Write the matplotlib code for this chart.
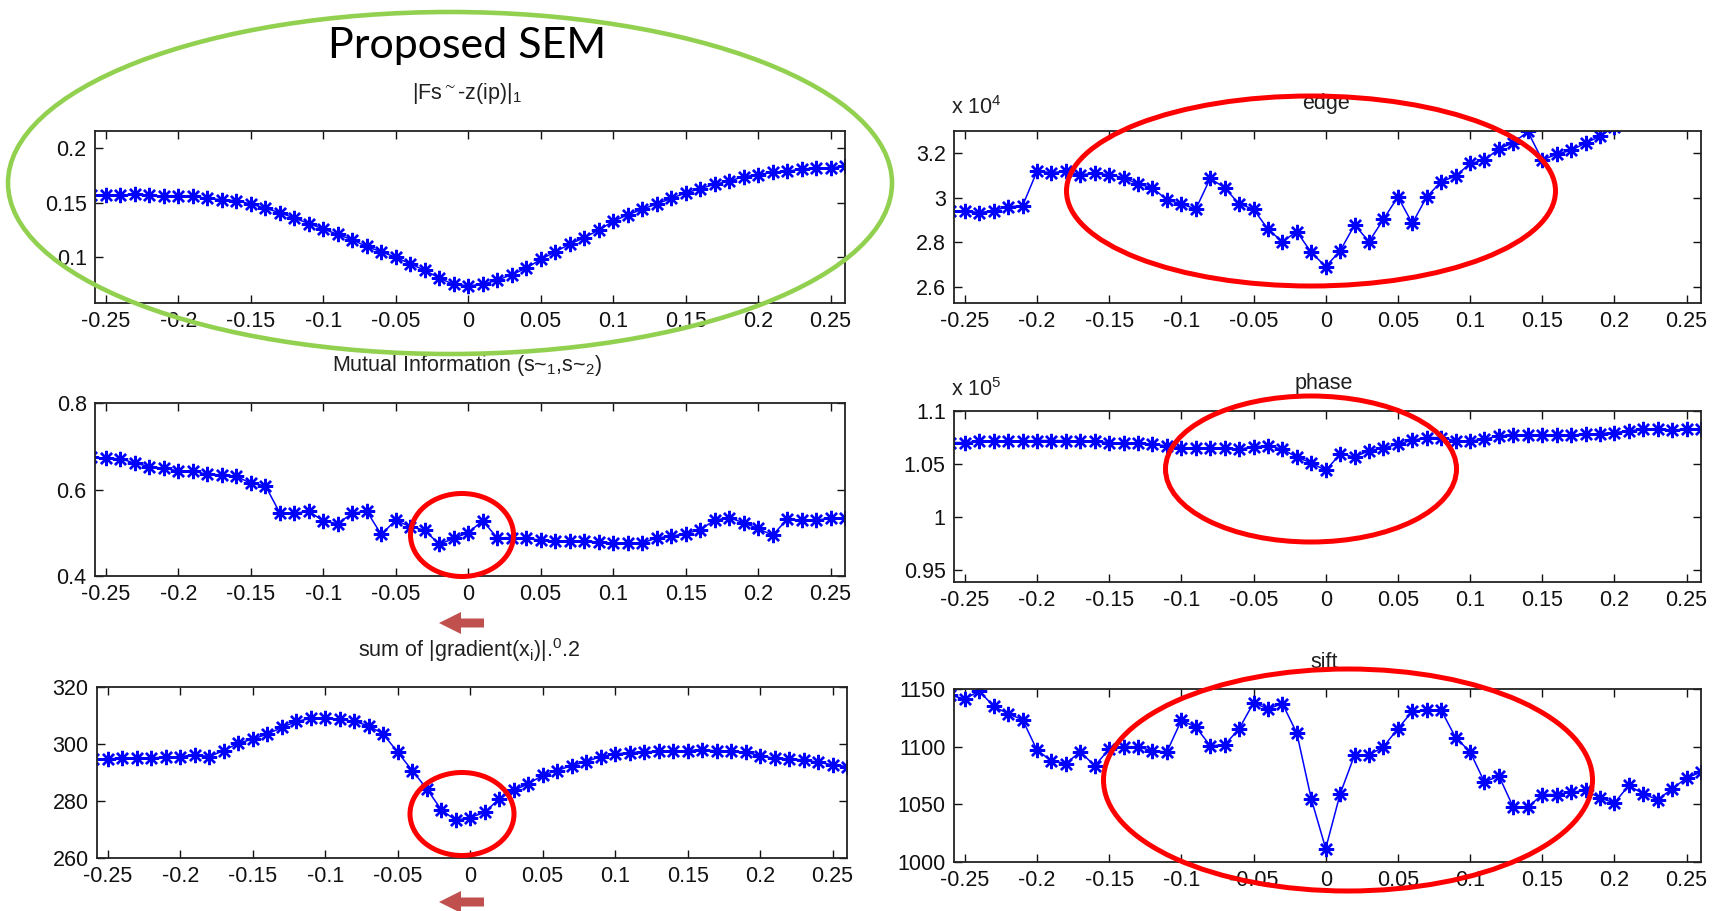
import numpy as np
import matplotlib
matplotlib.use("Agg")
import matplotlib.pyplot as plt
from matplotlib.patches import Ellipse, Polygon

plt.rcParams["font.family"] = ["Liberation Sans", "DejaVu Sans"]
plt.rcParams["axes.unicode_minus"] = False
plt.rcParams["mathtext.fontset"] = "custom"
plt.rcParams["mathtext.rm"] = "Liberation Sans"
plt.rcParams["mathtext.it"] = "Liberation Sans"
plt.rcParams["mathtext.default"] = "regular"

# ---------------- data ----------------
shift = [-0.26, -0.25, -0.24, -0.23, -0.22, -0.21, -0.20, -0.19, -0.18, -0.17, -0.16,
         -0.15, -0.14, -0.13, -0.12, -0.11, -0.10, -0.09, -0.08, -0.07, -0.06, -0.05,
         -0.04, -0.03, -0.02, -0.01, 0.00, 0.01, 0.02, 0.03, 0.04, 0.05, 0.06, 0.07,
         0.08, 0.09, 0.10, 0.11, 0.12, 0.13, 0.14, 0.15, 0.16, 0.17, 0.18, 0.19, 0.20,
         0.21, 0.22, 0.23, 0.24, 0.25, 0.26]

fs_l1 = [0.157, 0.157, 0.157, 0.158, 0.157, 0.156, 0.156, 0.156, 0.154, 0.153, 0.152,
         0.149, 0.145, 0.141, 0.136, 0.131, 0.126, 0.121, 0.116, 0.110, 0.105, 0.100,
         0.094, 0.088, 0.081, 0.075, 0.074, 0.075, 0.079, 0.084, 0.090, 0.098, 0.105,
         0.112, 0.118, 0.125, 0.133, 0.139, 0.144, 0.149, 0.154, 0.159, 0.163, 0.167,
         0.170, 0.174, 0.176, 0.178, 0.179, 0.181, 0.182, 0.182, 0.184]

mutual_info = [0.675, 0.672, 0.671, 0.661, 0.653, 0.649, 0.643, 0.643, 0.635, 0.634, 0.631,
               0.614, 0.609, 0.546, 0.545, 0.550, 0.527, 0.521, 0.545, 0.550, 0.496, 0.529,
               0.514, 0.506, 0.473, 0.487, 0.500, 0.528, 0.488, 0.489, 0.487, 0.483, 0.480,
               0.480, 0.480, 0.479, 0.476, 0.476, 0.476, 0.488, 0.492, 0.498, 0.507, 0.529,
               0.535, 0.523, 0.510, 0.494, 0.531, 0.529, 0.529, 0.534, 0.535]

gradient_sum = [294.8, 294.8, 295.0, 295.1, 295.2, 295.3, 295.6, 296.2, 295.6, 297.7, 300.3,
                301.7, 303.5, 305.8, 307.9, 309.0, 309.0, 308.7, 307.9, 306.4, 303.5, 297.1,
                290.7, 284.3, 277.0, 273.2, 274.2, 276.0, 280.8, 283.7, 286.0, 289.0, 290.7,
                292.4, 293.8, 295.6, 296.5, 297.0, 297.3, 297.4, 297.4, 297.7, 298.0, 297.6,
                297.4, 297.1, 295.9, 295.0, 294.8, 294.4, 293.6, 292.7, 292.1]

edge = [29400, 29420, 29330, 29420, 29600, 29640, 31190, 31130, 31190, 31040, 31090,
        31040, 30900, 30610, 30450, 29900, 29720, 29490, 30870, 30450, 29720, 29490,
        28580, 28030, 28480, 27540, 26910, 27610, 28780, 28030, 29030, 30040, 28850,
        30040, 30720, 30970, 31540, 31690, 32210, 32460, 32980, 31690, 31960, 32130,
        32460, 32760, 33200, 33400, 33600, 33800, 34000, 34200, 34400]

phase = [107030, 107030, 107130, 107190, 107190, 107190, 107220, 107220, 107220, 107130, 107130,
         107030, 106970, 106970, 106880, 106720, 106560, 106500, 106500, 106500, 106410, 106630,
         106720, 106410, 105650, 105120, 104400, 105950, 105680, 106250, 106500, 106880, 107250,
         107500, 107500, 107190, 107190, 107340, 107660, 107750, 107750, 107750, 107750, 107750,
         107810, 107880, 107970, 108130, 108280, 108280, 108220, 108280, 108340]

sift = [1144.4, 1141.5, 1148.2, 1135.0, 1128.4, 1123.4, 1097.0, 1087.7, 1085.4, 1095.6, 1083.3,
        1098.0, 1100.0, 1100.0, 1096.2, 1095.6, 1122.8, 1117.0, 1100.9, 1101.5, 1115.5, 1138.0,
        1132.7, 1137.4, 1111.7, 1054.7, 1011.7, 1059.0, 1092.7, 1092.7, 1100.0, 1115.5, 1130.7,
        1131.6, 1131.6, 1107.9, 1095.6, 1069.3, 1074.6, 1047.4, 1047.4, 1058.5, 1058.5, 1060.5,
        1062.0, 1055.6, 1051.2, 1066.4, 1059.0, 1054.0, 1063.5, 1072.8, 1078.0]

xticks = [-0.25, -0.2, -0.15, -0.1, -0.05, 0, 0.05, 0.1, 0.15, 0.2, 0.25]
xtick_labels = ["-0.25", "-0.2", "-0.15", "-0.1", "-0.05", "0", "0.05", "0.1", "0.15", "0.2", "0.25"]

titles = [r"|Fs$^{\sim}$-z(ip)|$_1$",
          r"Mutual Information (s~$_1$,s~$_2$)",
          r"sum of |gradient(x$_i$)|.$^0$.2",
          "edge", "phase", "sift"]
series = [fs_l1, mutual_info, gradient_sum, edge, phase, sift]
yticks = [[0.1, 0.15, 0.2], [0.4, 0.6, 0.8], [260, 280, 300, 320],
          [26000, 28000, 30000, 32000], [95000, 100000, 105000, 110000], [1000, 1050, 1100, 1150]]
ytick_labels = [["0.1", "0.15", "0.2"], ["0.4", "0.6", "0.8"], ["260", "280", "300", "320"],
                ["2.6", "2.8", "3", "3.2"], ["0.95", "1", "1.05", "1.1"], ["1000", "1050", "1100", "1150"]]
ylims = [(0.058, 0.216), (0.4, 0.8), (260, 320), (25270, 33000), (93900, 110000), (1000, 1150)]
exponents = [None, None, None, "4", "5", None]

# ---------------- layout (pixels, top-left origin) ----------------
W, H = 1723, 911
fig = plt.figure(figsize=(W / 100, H / 100), dpi=100)
fig.patch.set_facecolor("white")

boxes = [(95, 131, 845, 303), (95, 403, 845, 576), (97, 687, 847, 858),
         (954, 131, 1701, 303), (954, 411, 1701, 582), (954, 689, 1701, 862)]
title_pos = [(467, 93), (467, 366), (469, 650), (1326, 104), (1324, 384), (1324, 663)]
exp_pos = [None, None, None, (951, 108), (951, 390), None]


def fx(px):
    return px / W


def fy(py):
    return 1 - py / H


for i in range(6):
    l, t, r, b = boxes[i]
    ax = fig.add_axes([fx(l), fy(b), (r - l) / W, (b - t) / H])
    ax.plot(shift, series[i], color="#0000ff", lw=1.1, marker=(8, 2, 0), ms=11, mew=1.7)
    ax.set_xlim(-0.2575, 0.26)
    ax.set_ylim(*ylims[i])
    ax.set_xticks(xticks)
    ax.set_xticklabels(xtick_labels)
    ax.set_yticks(yticks[i])
    ax.set_yticklabels(ytick_labels[i])
    ax.tick_params(direction="in", length=6, width=1.0, top=True, right=True,
                   labelsize=15.5, pad=6, colors="#111111")
    for s in ax.spines.values():
        s.set_linewidth(1.3)
        s.set_color("#222222")
    tx, ty = title_pos[i]
    fig.text(fx(tx), fy(ty), titles[i], ha="center", va="center", fontsize=15.5, color="#202020")
    if exponents[i]:
        ex, ey = exp_pos[i]
        fig.text(fx(ex), fy(ey), r"x 10$^{%s}$" % exponents[i], ha="left", va="center",
                 fontsize=15.5, color="#202020")

# big heading
fig.text(fx(467), fy(46), "Proposed SEM", ha="center", va="center", fontsize=31,
         family=["Lato", "DejaVu Sans"], color="black")

# highlight ellipses (cx, cy, w, h in pixels)
green = (450, 183, 884, 342)
reds = [(462, 535, 103, 83), (462, 814, 104, 83), (1311, 191, 489, 190),
        (1311, 469, 291, 146), (1348, 780, 489, 222)]


def add_ellipse(e, color, lw):
    cx, cy, w, h = e
    fig.add_artist(Ellipse((fx(cx), fy(cy)), w / W, h / H, transform=fig.transFigure,
                           fill=False, edgecolor=color, lw=lw, zorder=10))


add_ellipse(green, "#92d050", 3.3)
for e in reds:
    add_ellipse(e, "#ff0000", 3.6)

# left-pointing arrows (tip x, center y)
arrows = [(439, 623), (439, 902)]
for ax_, ay_ in arrows:
    pts = [(ax_, ay_), (ax_ + 22, ay_ - 11), (ax_ + 22, ay_ - 4.5), (ax_ + 45, ay_ - 4.5),
           (ax_ + 45, ay_ + 4.5), (ax_ + 22, ay_ + 4.5), (ax_ + 22, ay_ + 11)]
    fig.add_artist(Polygon([(fx(p), fy(q)) for p, q in pts], closed=True,
                           transform=fig.transFigure, facecolor="#c0504d",
                           edgecolor="none", zorder=10))

fig.savefig("out.png", dpi=100, facecolor="white")
